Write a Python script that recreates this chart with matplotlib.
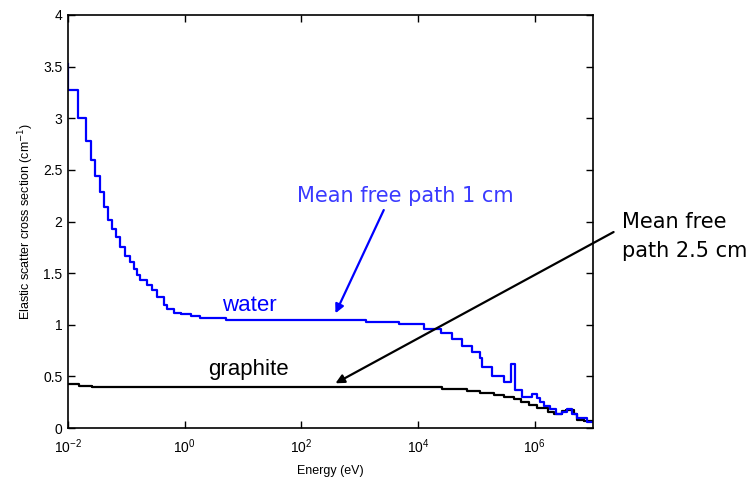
import numpy as np
import matplotlib.pyplot as plt

# step data: log10(E / eV) where each step starts, and its value (cm^-1)
water_log_e = [-2.00, -1.995, -1.83, -1.70, -1.61, -1.53, -1.46, -1.39, -1.31, -1.245,
               -1.18, -1.10, -1.02, -0.94, -0.875, -0.81, -0.76, -0.645, -0.56, -0.47,
               -0.36, -0.30, -0.19, -0.07, 0.10, 0.27, 0.70, 3.10, 3.67, 4.10,
               4.39, 4.59, 4.76, 4.93, 5.07, 5.10, 5.27, 5.47, 5.60, 5.67,
               5.79, 5.96, 6.04, 6.10, 6.16, 6.27, 6.36, 6.47, 6.56, 6.64,
               6.73, 6.90, 7.00]
water_xs = [3.53, 3.27, 3.00, 2.78, 2.60, 2.44, 2.29, 2.14, 2.01, 1.93,
            1.85, 1.75, 1.67, 1.61, 1.54, 1.48, 1.43, 1.385, 1.34, 1.27,
            1.19, 1.15, 1.117, 1.10, 1.085, 1.07, 1.046, 1.03, 1.007, 0.956,
            0.917, 0.86, 0.79, 0.74, 0.675, 0.59, 0.50, 0.45, 0.62, 0.37,
            0.30, 0.33, 0.29, 0.255, 0.213, 0.18, 0.136, 0.158, 0.18, 0.136,
            0.094, 0.061, 0.061]

graphite_log_e = [-2.00, -1.82, -1.59, -1.05, 4.41, 4.84, 5.07, 5.30, 5.47, 5.64,
                  5.76, 5.90, 6.04, 6.22, 6.33, 6.47, 6.53, 6.67, 6.73, 6.84, 7.00]
graphite_xs = [0.425, 0.41, 0.40, 0.393, 0.375, 0.36, 0.34, 0.32, 0.30, 0.28,
               0.255, 0.22, 0.19, 0.158, 0.14, 0.16, 0.175, 0.14, 0.077, 0.07, 0.07]

plt.rcParams['font.family'] = ['Liberation Sans', 'DejaVu Sans']

W, H = 752, 480
fig = plt.figure(figsize=(W / 100, H / 100), dpi=100)
ax = fig.add_axes([68 / W, 1 - 428 / H, (593 - 68) / W, (428 - 15) / H])

ax.plot(10 ** np.array(graphite_log_e), graphite_xs, drawstyle='steps-post',
        color='black', lw=1.6)
ax.plot(10 ** np.array(water_log_e), water_xs, drawstyle='steps-post',
        color='#0000ff', lw=1.6)

ax.set_xscale('log')
ax.set_xlim(1e-2, 1e7)
ax.set_ylim(0, 4)
ax.set_xticks([1e-2, 1e0, 1e2, 1e4, 1e6])
ax.xaxis.set_minor_locator(plt.NullLocator())
ax.set_yticks(np.arange(0, 4.01, 0.5))
ax.set_yticklabels(['0', '0.5', '1', '1.5', '2', '2.5', '3', '3.5', '4'])
ax.tick_params(direction='in', length=5, width=1, labelsize=10,
               top=True, right=True)
ax.tick_params(axis='x', pad=7)
ax.tick_params(axis='y', pad=4)
for s in ax.spines.values():
    s.set_linewidth(1.2)

ax.set_xlabel('Energy (eV)', fontsize=9, labelpad=6)
ax.set_ylabel('Elastic scatter cross section (cm$^{-1}$)', fontsize=9, labelpad=5)

# labels on the curves
fig.text(221.7 / W, 1 - 310.7 / H, 'water', color='#0000ff', fontsize=16, va='baseline')
fig.text(208 / W, 1 - 375 / H, 'graphite', color='black', fontsize=16, va='baseline')

# mean free path notes
fig.text(297 / W, 1 - 202 / H, 'Mean free path 1 cm', color='#3a3aff',
         fontsize=15, family='DejaVu Sans', va='baseline')
fig.text(622 / W, 1 - 228 / H, 'Mean free', color='black',
         fontsize=15, family='DejaVu Sans', va='baseline')
fig.text(622 / W, 1 - 257 / H, 'path 2.5 cm', color='black',
         fontsize=15, family='DejaVu Sans', va='baseline')

ax.annotate('', xy=(10 ** 2.585, 1.111), xytext=(10 ** 3.413, 2.111),
            arrowprops=dict(arrowstyle='-|>', color='#0000ff', lw=1.6,
                            mutation_scale=13, shrinkA=0, shrinkB=0))
ax.annotate('', xy=(10 ** 2.585, 0.433), xytext=(10 ** 7.353, 1.898),
            annotation_clip=False,
            arrowprops=dict(arrowstyle='-|>', color='black', lw=1.6,
                            mutation_scale=13, shrinkA=0, shrinkB=0))

fig.savefig('out.png', dpi=100)
